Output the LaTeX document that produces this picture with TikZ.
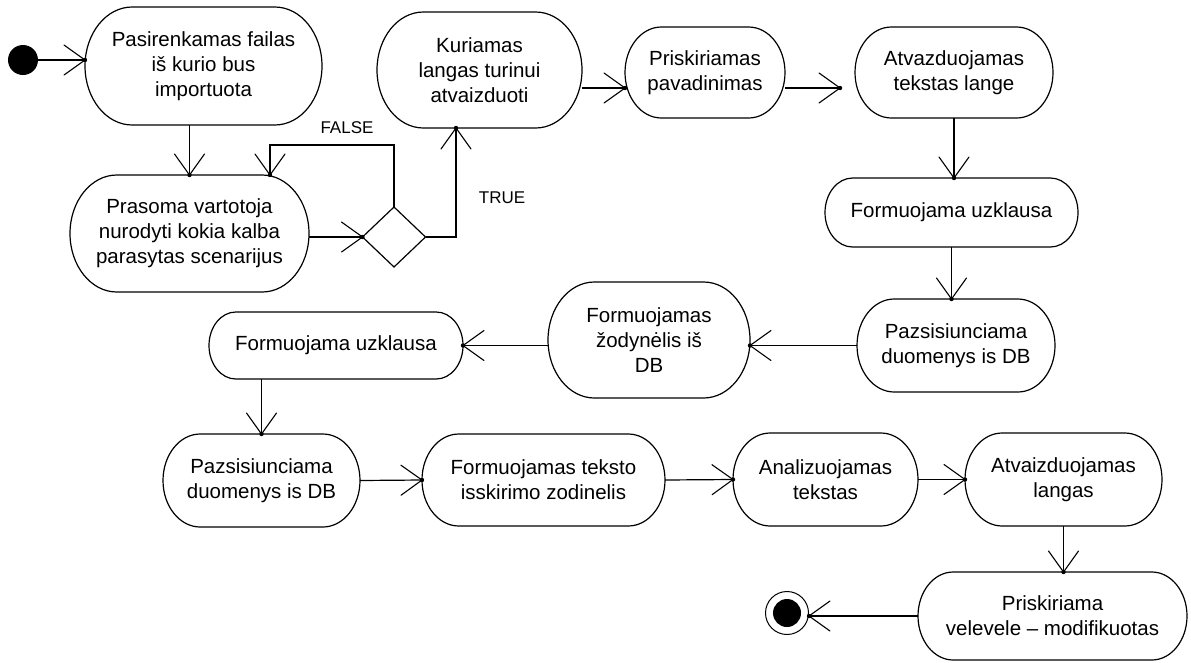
\documentclass[tikz,border=0pt]{standalone}
\usepackage{fontspec}
\setmainfont{Liberation Sans}
\usetikzlibrary{shapes.geometric,decorations.markings}

% Activity shape: a box whose ends are elliptical arcs
\newdimen\pillxa \newdimen\pillxb \newdimen\pillya \newdimen\pillyb
\newdimen\pillrx \newdimen\pillry \newdimen\pilltmp
\makeatletter
\pgfdeclareshape{pill}{%
  \inheritsavedanchors[from=rectangle]%
  \inheritanchorborder[from=rectangle]%
  \inheritanchor[from=rectangle]{center}%
  \inheritanchor[from=rectangle]{north}%
  \inheritanchor[from=rectangle]{south}%
  \inheritanchor[from=rectangle]{east}%
  \inheritanchor[from=rectangle]{west}%
  \inheritanchor[from=rectangle]{north east}%
  \inheritanchor[from=rectangle]{north west}%
  \inheritanchor[from=rectangle]{south east}%
  \inheritanchor[from=rectangle]{south west}%
  \backgroundpath{%
    \southwest \pillxa=\pgf@x \pillya=\pgf@y
    \northeast \pillxb=\pgf@x \pillyb=\pgf@y
    \pillry=\pillyb \advance\pillry by -\pillya \pillry=.5\pillry
    \pillrx=.8\pillry
    \pilltmp=\pillxa \advance\pilltmp by \pillrx
    \pgfpathmoveto{\pgfqpoint{\pilltmp}{\pillyb}}%
    \pilltmp=\pillxb \advance\pilltmp by -\pillrx
    \pgfpathlineto{\pgfqpoint{\pilltmp}{\pillyb}}%
    \pgfpatharc{90}{-90}{\the\pillrx and \the\pillry}%
    \pilltmp=\pillxa \advance\pilltmp by \pillrx
    \pgfpathlineto{\pgfqpoint{\pilltmp}{\pillya}}%
    \pgfpatharc{270}{90}{\the\pillrx and \the\pillry}%
    \pgfpathclose
  }%
}
\makeatother

\tikzset{
  act/.style={shape=pill, draw, line width=1.2pt, outer sep=0pt, inner sep=0pt,
    align=center, font=\fontsize{20.5}{25}\selectfont},
  decision/.style={diamond, draw, line width=1.2pt, outer sep=0pt, inner sep=0pt,
    minimum width=63pt, minimum height=60pt},
  guard/.style={font=\fontsize{17}{20}\selectfont},
  % open V head with a small dot at its point
  arr/.style={line width=1.2pt, postaction={decorate, decoration={markings,
    mark=at position 1 with {
      \draw[line width=1.1pt, line cap=round] (-21pt,15pt) -- (0pt,0pt) -- (-21pt,-15pt);
      \fill (0pt,0pt) circle (2.2pt);}}}},
}

\begin{document}
\begin{tikzpicture}[x=1pt,y=1pt]
\fill[white] (0,0) rectangle (1191,-662);
\useasboundingbox (0,0) rectangle (1191,-662);

% initial and final states
\node[circle, fill, minimum size=30pt, inner sep=0pt] (start) at (23,-60) {};
\node[circle, draw, line width=1pt, minimum size=43pt, inner sep=0pt] (final) at (787,-613) {};
\node[circle, fill, minimum size=28pt, inner sep=0pt] (finalin) at (final) {};

% activities
\node[act, minimum width=237pt, minimum height=118pt] (A) at (203.5,-66)
  {Pasirenkamas failas\\iš kurio bus\\importuota};
\node[act, minimum width=239pt, minimum height=117pt] (B) at (189.5,-233.5)
  {Prasoma vartotoja\\nurodyti kokia kalba\\parasytas scenarijus};
\node[decision] (dec) at (394,-237) {};
\node[act, minimum width=205pt, minimum height=116pt] (C) at (479.5,-70)
  {Kuriamas\\langas turinui\\atvaizduoti};
\node[act, minimum width=160pt, minimum height=91pt] (D) at (705,-72.5)
  {Priskiriamas\\pavadinimas};
\node[act, minimum width=198pt, minimum height=91pt] (E) at (954,-72.5)
  {Atvazduojamas\\tekstas lange};
\node[act, minimum width=253pt, minimum height=69pt] (F) at (951.5,-212.5)
  {Formuojama uzklausa};
\node[act, minimum width=198pt, minimum height=93pt] (G) at (956,-345.5)
  {Pazsisiunciama\\duomenys is DB};
\node[act, minimum width=202pt, minimum height=116pt] (H) at (649,-340)
  {Formuojamas\\žodynėlis iš\\DB};
\node[act, minimum width=254pt, minimum height=67pt] (I) at (336,-345.5)
  {Formuojama uzklausa};
\node[act, minimum width=197pt, minimum height=93pt] (J) at (261.5,-480.5)
  {Pazsisiunciama\\duomenys is DB};
\node[act, minimum width=243pt, minimum height=92pt] (K) at (543.5,-480)
  {Formuojamas teksto\\isskirimo zodinelis};
\node[act, minimum width=185pt, minimum height=93pt] (L) at (825.5,-479.5)
  {Analizuojamas\\tekstas};
\node[act, minimum width=197pt, minimum height=93pt] (M) at (1063.5,-479.5)
  {Atvaizduojamas\\langas};
\node[act, minimum width=269pt, minimum height=88pt] (N) at (1052.5,-616)
  {Priskiriama\\velevele – modifikuotas};

% guard labels
\node[guard] (lfalse) at (347,-128) {FALSE};
\node[guard] (ltrue) at (502,-198) {TRUE};

% bends of the decision branches and the loose arrow end before E
\coordinate (fk) at (270,-145);
\coordinate (tk) at (456,-237);
\coordinate (eIn) at (840,-88);

% transitions
\draw[arr] (start) -- (start -| A.west);
\draw[arr] (A.south -| B.north) -- (B.north);
\draw[arr] (B.east |- dec.west) -- (dec.west);
\draw[arr] (dec.north) |- (fk) -- (fk |- B.north);
\draw[arr] (dec.east) -- (tk) -- (tk |- C.south);
\draw[arr] ([yshift=-18pt]C.east) -- ([yshift=-18pt]C.east -| D.west);
\draw[arr] ([yshift=-15.5pt]D.east) -- (eIn);
\draw[arr] (E.south) -- (E.south |- F.north);
\draw[arr] (F.south) -- (F.south |- G.north);
\draw[arr] (G.west) -- (G.west -| H.east);
\draw[arr] (I.east -| H.west) -- (I.east);
\draw[arr] (I.south -| J.north) -- (J.north);
\draw[arr] (J.east) -- (K.west);
\draw[arr] (K.east) -- (L.west);
\draw[arr] (L.east) -- (M.west);
\draw[arr] (M.south) -- (M.south |- N.north);
\draw[arr] (N.west) -- (N.west -| final.east);
\end{tikzpicture}
\end{document}
